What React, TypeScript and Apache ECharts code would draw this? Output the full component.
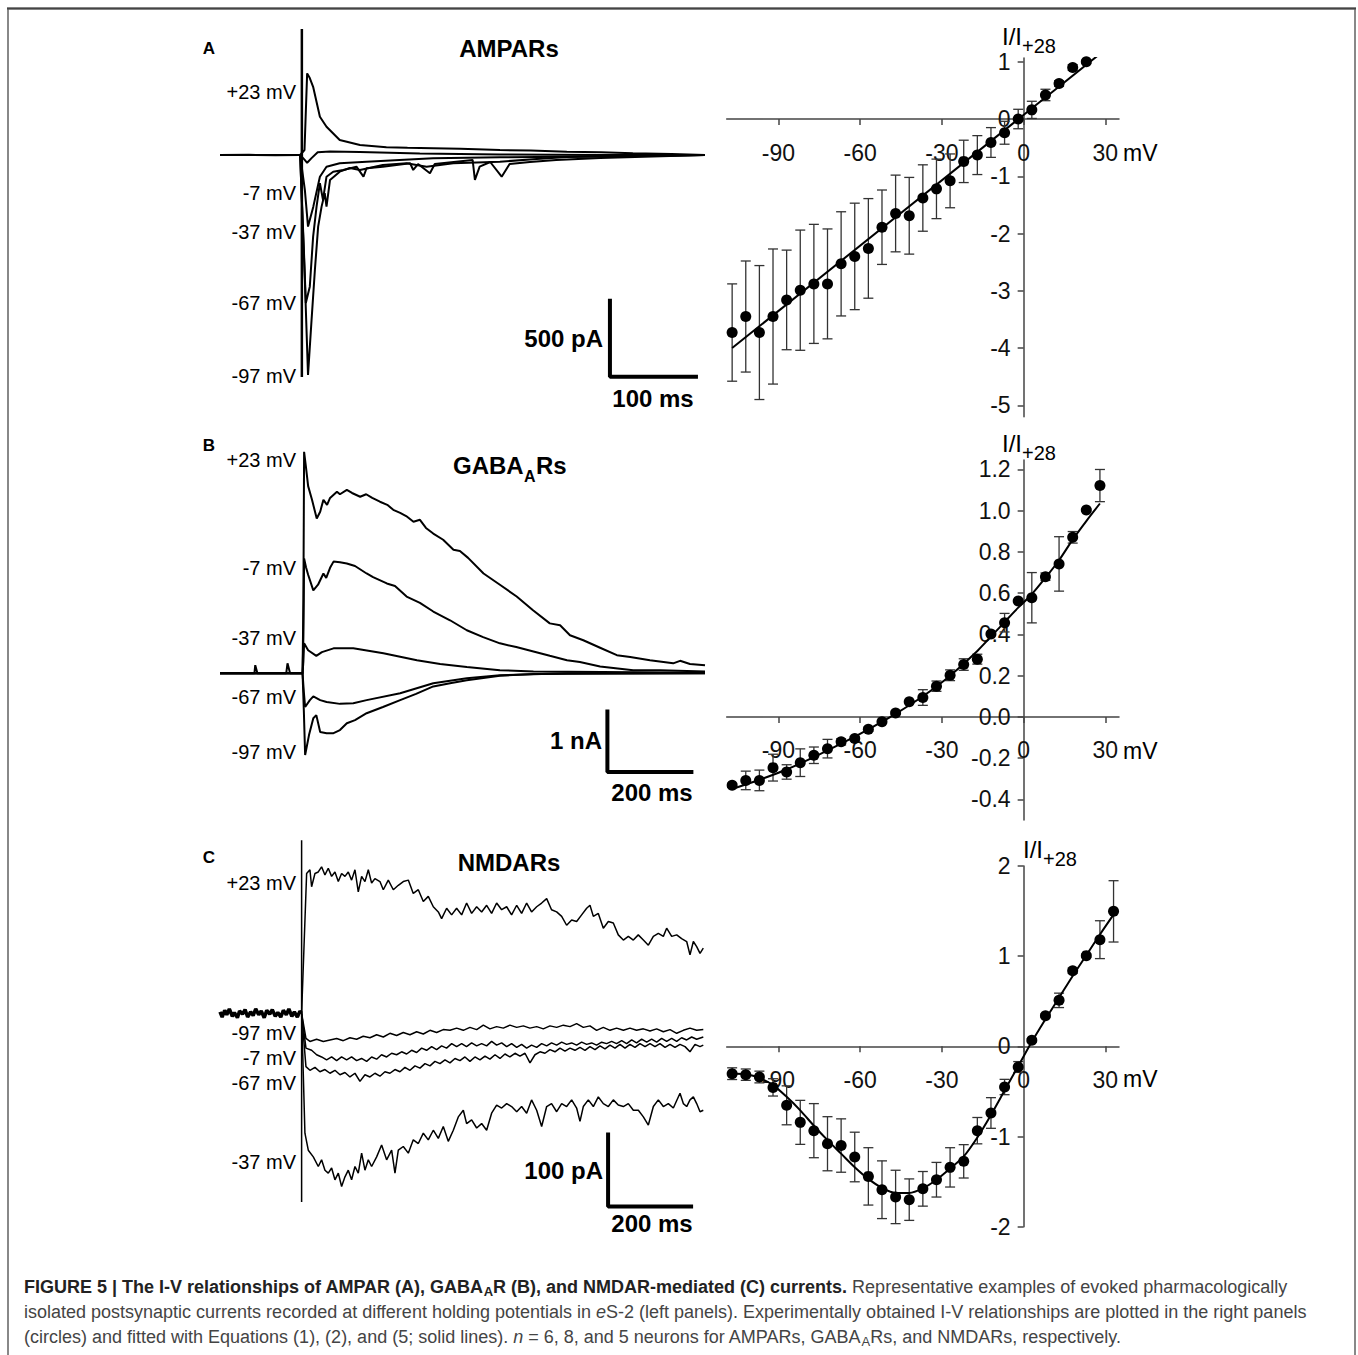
import React, { useEffect, useRef } from "react";
import * as echarts from "echarts";

// ---------------- Right panels: I-V relationships ----------------
const ivXTicks = [-90, -60, -30, 0, 30];
const ivXMin = -109;
const ivXMax = 35;

const vA = [-107, -102, -97, -92, -87, -82, -77, -72, -67, -62, -57, -52, -47, -42, -37, -32, -27, -22, -17, -12, -7, -2, 3, 8, 13, 18, 23];
const iA = [-3.73, -3.45, -3.73, -3.45, -3.16, -2.99, -2.88, -2.88, -2.53, -2.4, -2.26, -1.89, -1.65, -1.69, -1.38, -1.22, -1.08, -0.74, -0.63, -0.41, -0.24, 0.0, 0.16, 0.42, 0.62, 0.9, 1.0];
const eA = [0.85, 0.97, 1.17, 1.18, 0.87, 1.05, 1.04, 0.96, 0.91, 0.93, 0.87, 0.65, 0.67, 0.67, 0.58, 0.52, 0.47, 0.37, 0.34, 0.26, 0.2, 0.17, 0.15, 0.1, 0.05, 0.05, 0.03];
const fitA = [[-107, -4.0], [27, 1.1]];
const yTicksA = [-5, -4, -3, -2, -1, 0, 1];

const vB = [-107, -102, -97, -92, -87, -82, -77, -72, -67, -62, -57, -52, -47, -42, -37, -32, -27, -22, -17, -12, -7, -2, 3, 8, 13, 18, 23, 28];
const iB = [-0.332, -0.308, -0.308, -0.246, -0.267, -0.222, -0.186, -0.154, -0.121, -0.105, -0.06, -0.024, 0.019, 0.073, 0.094, 0.149, 0.202, 0.254, 0.28, 0.402, 0.457, 0.562, 0.578, 0.68, 0.742, 0.871, 1.004, 1.122];
const eB = [0.01, 0.045, 0.05, 0.065, 0.035, 0.067, 0.04, 0.045, 0.015, 0.01, 0.01, 0.005, 0.005, 0.005, 0.038, 0.025, 0.026, 0.028, 0.024, 0.005, 0.045, 0.005, 0.122, 0.018, 0.132, 0.028, 0.005, 0.078];
const fitB = [[-107, -0.35], [-97, -0.305], [-87, -0.255], [-77, -0.195], [-67, -0.13], [-57, -0.06], [-47, 0.015], [-37, 0.1], [-27, 0.2], [-17, 0.32], [-7, 0.46], [-2, 0.53], [3, 0.595], [8, 0.675], [13, 0.76], [18, 0.86], [23, 0.95], [28, 1.035]];
const yTicksB = [-0.4, -0.2, 0, 0.2, 0.4, 0.6, 0.8, 1.0, 1.2];

const vC = [-107, -102, -97, -92, -87, -82, -77, -72, -67, -62, -57, -52, -47, -42, -37, -32, -27, -22, -17, -12, -7, -2, 3, 8, 13, 18, 23, 28, 33];
const iC = [-0.303, -0.314, -0.34, -0.455, -0.654, -0.843, -0.935, -1.08, -1.1, -1.227, -1.442, -1.59, -1.67, -1.7, -1.58, -1.479, -1.342, -1.275, -0.935, -0.739, -0.451, -0.229, 0.067, 0.34, 0.51, 0.839, 1.006, 1.183, 1.497];
const eC = [0.065, 0.063, 0.065, 0.096, 0.216, 0.244, 0.3, 0.3, 0.296, 0.275, 0.318, 0.32, 0.296, 0.23, 0.192, 0.192, 0.218, 0.185, 0.146, 0.17, 0.085, 0.06, 0.02, 0.02, 0.08, 0.03, 0.02, 0.21, 0.34];
const fitC = [[-107, -0.3], [-102, -0.31], [-97, -0.35], [-92, -0.43], [-87, -0.56], [-82, -0.71], [-77, -0.88], [-72, -1.04], [-67, -1.19], [-62, -1.34], [-57, -1.47], [-52, -1.57], [-47, -1.625], [-42, -1.625], [-37, -1.575], [-32, -1.48], [-27, -1.355], [-22, -1.22], [-17, -1.01], [-12, -0.76], [-7, -0.49], [-2, -0.22], [3, 0.05], [8, 0.3], [13, 0.54], [18, 0.78], [23, 1.01], [28, 1.24], [33, 1.46]];
const yTicksC = [-2, -1, 0, 1, 2];

// ---------------- Left panels: traces (t in ms, I in pA / nA) ----------------
// A: AMPARs (pA)
const tA_p23 = [[-93, 0], [-60, 1], [-30, -1], [-2, 0], [3, 32], [6, 523], [9, 493], [12.8, 437], [20.5, 245], [28, 181], [43, 96], [66, 64], [96, 49], [120, 46], [149, 43], [180, 40], [225, 32], [260, 28], [301, 21], [340, 17], [376, 11], [420, 6], [458, 0]];
const tA_m7 = [[-93, 0], [-2, 0], [3, -30], [6, -50], [11, -20], [18, 18], [32, 22], [66, 19], [134, 10], [225, 3], [340, 0], [458, 0]];
const tA_m37 = [[-93, 0], [-2, 0], [3.4, -224], [7, -459], [13, -331], [20.5, -139], [28, -75], [43, -53], [73.5, -43], [111, -32], [149, -21], [225, -15], [301, -11], [458, 0]];
const tA_m67 = [[-93, 0], [-2, 0], [2.3, -608], [4.5, -948], [9, -844], [12.8, -523], [16.7, -331], [20.5, -181], [24, -288], [28, -139], [35.6, -107], [47, -96], [62, -75], [70, -139], [73.5, -85], [92, -75], [123, -53], [126.5, -96], [132, -58], [145.5, -117], [151, -58], [194, -32], [196.6, -160], [202, -75], [214, -45], [227, -139], [236, -58], [259, -45], [289, -32], [339, -19], [458, 0]];
const tA_m97 = [[-93, 0], [-2, 0], [3.4, -800], [7, -1410], [11, -1058], [14.8, -737], [18.5, -459], [22.4, -331], [26, -245], [28, -331], [32, -160], [43, -107], [54.5, -83], [66, -96], [92, -64], [119, -53], [141.7, -75], [172, -53], [225, -43], [262.5, -28], [301, -13], [458, 0]];
const stimA = [[0, 808], [0, -1423]];
const barA = [[350, -921], [350, -1421], [450, -1421]];

// B: GABA_ARs (nA)
const tB_p23 = [[-194, 0], [-114, 0], [-112, 0.13], [-107, 0], [-40, 0], [-37, 0.16], [-31, 0], [-2, 0], [0, 1.2], [1.6, 3.55], [6, 3.3], [11, 3.0], [20, 2.78], [31, 2.48], [39, 2.59], [46.5, 2.78], [55, 2.7], [62, 2.81], [78, 2.91], [85, 2.87], [101, 2.94], [113, 2.89], [132, 2.83], [146, 2.87], [160, 2.81], [178, 2.75], [195, 2.7], [209, 2.62], [225, 2.57], [239, 2.52], [256, 2.43], [271, 2.46], [285, 2.33], [302, 2.24], [325, 2.14], [349, 1.98], [364, 1.96], [383, 1.85], [419, 1.6], [457, 1.42], [496, 1.23], [534, 1.01], [573, 0.8], [597, 0.77], [620, 0.61], [651, 0.53], [690, 0.41], [729, 0.29], [760, 0.26], [806, 0.21], [860, 0.16], [876, 0.2], [899, 0.15], [934, 0.13]];
const tB_m7 = [[-194, 0], [-2, 0], [0, 0.6], [1.6, 1.84], [6, 1.7], [11, 1.58], [23, 1.33], [34, 1.42], [46.5, 1.6], [53, 1.53], [62, 1.69], [70, 1.79], [85, 1.78], [101, 1.76], [120, 1.72], [147, 1.6], [162, 1.54], [194, 1.44], [213, 1.4], [240, 1.23], [271, 1.13], [302, 0.99], [341, 0.85], [380, 0.69], [418, 0.58], [457, 0.48], [495, 0.42], [535, 0.35], [573, 0.28], [613, 0.21], [643, 0.18], [690, 0.11], [767, 0.05], [830, 0.05], [934, 0.03]];
const tB_m37 = [[-194, 0], [-2, 0], [0, 0.2], [1.6, 0.48], [11, 0.37], [30, 0.28], [43, 0.34], [70, 0.4], [116, 0.4], [186, 0.32], [264, 0.21], [318, 0.15], [380, 0.1], [457, 0.05], [535, 0.03], [934, 0.01]];
const tB_m67 = [[-194, 0], [-2, 0], [1, -0.3], [4, -0.54], [15, -0.43], [23, -0.37], [39, -0.43], [54, -0.46], [85, -0.49], [116, -0.48], [147, -0.43], [225, -0.32], [302, -0.16], [380, -0.08], [457, -0.03], [613, 0], [934, 0]];
const tB_m97 = [[-194, 0], [-2, 0], [1, -0.6], [4, -1.31], [13, -0.99], [23, -0.72], [30, -0.67], [39, -0.94], [54, -0.96], [70, -0.96], [85, -0.91], [101, -0.8], [120, -0.75], [147, -0.64], [185, -0.54], [225, -0.43], [262, -0.33], [302, -0.21], [341, -0.16], [380, -0.11], [457, -0.04], [535, -0.01], [934, 0]];
const barB = [[707, -0.58], [707, -1.58], [907, -1.58]];

// C: NMDARs (pA)
const tC_base = [[-192, 2], [-187, -5], [-181, 4], [-176, -2], [-170, 6], [-163, -4], [-158, 1], [-151, -6], [-146, 3], [-139, -1], [-133, 5], [-127, -5], [-120, 2], [-114, -3], [-108, 6], [-101, -2], [-95, 3], [-88, -6], [-82, 4], [-75, -1], [-69, 5], [-62, -4], [-56, 1], [-49, -5], [-43, 4], [-36, -2], [-30, 6], [-23, -4], [-17, 2], [-10, -5], [-4, 3], [0, 0]];
const tC_p23 = [[0, 0], [11.8, 189], [19.6, 194], [23.5, 171], [31.4, 189], [39.2, 191], [47, 198], [54.9, 187], [62.7, 196], [70.6, 185], [78.4, 191], [86.3, 178], [94.1, 189], [102, 185], [109.8, 191], [117.6, 180], [125.5, 194], [133.3, 164], [141.2, 185], [149, 178], [156.9, 194], [164.7, 176], [172.5, 182], [184.3, 178], [192.2, 167], [203.9, 180], [215.7, 167], [227.5, 173], [239.2, 178], [251, 180], [262.7, 162], [274.5, 167], [286.3, 151], [298, 158], [309.8, 144], [321.6, 137], [329.4, 128], [341.2, 142], [352.9, 133], [364.7, 142], [376.5, 133], [388.2, 149], [400, 135], [411.8, 144], [423.5, 137], [435.3, 146], [447, 135], [458.8, 149], [470.6, 140], [482.4, 144], [494, 133], [506, 146], [517.6, 135], [529.4, 149], [541, 137], [553, 144], [564.7, 149], [576.5, 155], [588, 140], [600, 137], [611.8, 131], [623.5, 119], [635.3, 126], [647, 124], [658.8, 133], [670.6, 142], [678.4, 146], [686.3, 131], [698, 135], [709.8, 115], [721.6, 124], [733.3, 122], [745, 106], [756.9, 99], [768.6, 104], [780.4, 99], [792, 106], [804, 99], [815.7, 92], [827.5, 104], [839.2, 108], [851, 104], [858.8, 115], [870.6, 104], [882.4, 106], [894, 101], [905.9, 97], [913.7, 79], [921.6, 97], [929.4, 90], [937.3, 81], [945, 88]];
const tC_m37 = [[0, 0], [7.8, -162], [15.7, -185], [27.5, -194], [39.2, -207], [47, -198], [54.9, -212], [62.7, -216], [70.6, -209], [78.4, -225], [86.3, -216], [94.1, -234], [102, -221], [109.8, -212], [117.6, -225], [125.5, -207], [133.3, -216], [141.2, -189], [149, -212], [156.9, -198], [164.7, -207], [176.5, -194], [188.2, -178], [200, -198], [211.8, -185], [219.6, -216], [227.5, -185], [239.2, -180], [251, -189], [262.7, -171], [274.5, -176], [286.3, -162], [298, -171], [309.8, -158], [321.6, -169], [333.3, -153], [345, -173], [356.9, -158], [368.6, -140], [380.4, -131], [388.2, -149], [400, -144], [411.8, -155], [423.5, -149], [435.3, -158], [447, -135], [458.8, -124], [470.6, -128], [482.4, -122], [494, -126], [506, -133], [517.6, -126], [529.4, -135], [541, -117], [553, -131], [564.7, -153], [576.5, -126], [588, -122], [600, -133], [611.8, -122], [623.5, -126], [635.3, -117], [647, -128], [654.9, -146], [662.7, -126], [674.5, -117], [686.3, -126], [698, -113], [709.8, -122], [721.6, -126], [733.3, -117], [745, -124], [756.9, -126], [768.6, -122], [780.4, -131], [792.2, -131], [804, -140], [815.7, -151], [827.5, -126], [839.2, -117], [851, -126], [862.7, -122], [874.5, -128], [890.2, -108], [898, -122], [905.9, -126], [913.7, -117], [921.6, -113], [929.4, -122], [937.3, -133], [945, -131]];
const tC_m97 = [[0, 0], [10.2, -34], [19.6, -38], [35.3, -35], [51, -38], [66.7, -36], [82.4, -34], [98, -37], [113.7, -33], [129.4, -35], [145, -31], [160.8, -33], [176.5, -29], [192.2, -32], [207.8, -27], [223.5, -30], [239.2, -26], [254.9, -29], [270.6, -25], [286.3, -28], [302, -23], [317.6, -26], [333.3, -22], [349, -23], [364.7, -20], [380.4, -23], [396, -19], [411.8, -22], [427.5, -16], [443, -21], [458.8, -18], [474.5, -20], [490, -16], [506, -19], [521.6, -17], [537, -20], [553, -18], [568.6, -21], [584.3, -17], [600, -19], [615.7, -16], [631.4, -18], [647, -14], [662.7, -19], [678.4, -17], [694, -23], [709.8, -19], [725.5, -23], [741, -20], [757, -23], [772.5, -20], [788, -23], [804, -21], [819.6, -24], [835.3, -21], [851, -25], [866.7, -22], [882.4, -27], [898, -23], [913.7, -20], [929.4, -23], [945, -22]];
const tC_m7 = [[0, 0], [10.2, -47], [23.5, -50], [35.3, -56], [47, -59], [58.8, -63], [70.6, -59], [82.4, -64], [94, -59], [105.9, -63], [117.6, -59], [129.4, -64], [141, -61], [153, -65], [164.7, -59], [176.5, -62], [188, -56], [200, -59], [211.8, -54], [223.5, -56], [235.3, -52], [247, -55], [258.8, -50], [270.6, -53], [282.4, -47], [294, -50], [305.9, -45], [317.6, -49], [329.4, -44], [341, -47], [353, -41], [364.7, -45], [376.5, -41], [388, -45], [400, -40], [411.8, -44], [423.5, -41], [435.3, -44], [447, -38], [458.8, -43], [470.6, -40], [482.4, -45], [494, -41], [506, -46], [517.6, -42], [529.4, -47], [541, -43], [553, -46], [564.7, -41], [576.5, -44], [588, -40], [600, -43], [611.8, -39], [623.5, -42], [635.3, -40], [647, -43], [658.8, -39], [670.6, -42], [682.4, -40], [694, -43], [705.9, -39], [717.6, -41], [729.4, -38], [741, -41], [753, -37], [764.7, -41], [776.5, -36], [788, -40], [800, -35], [811.8, -39], [823.5, -35], [835.3, -39], [847, -34], [858.8, -38], [870.6, -34], [882.4, -38], [894, -33], [905.9, -36], [917.6, -32], [929.4, -35], [945, -32]];
const tC_m67 = [[0, 0], [10.2, -72], [19.6, -77], [31.4, -73], [43, -79], [54.9, -76], [66.7, -81], [78.4, -77], [90.2, -83], [102, -80], [113.7, -86], [125.5, -81], [137.3, -92], [149, -83], [160.8, -86], [172.5, -81], [184.3, -85], [196, -79], [207.8, -81], [219.6, -76], [231.4, -79], [243.1, -73], [255, -77], [266.7, -71], [278.4, -74], [290.2, -68], [302, -71], [313.7, -65], [325.5, -68], [337.3, -63], [349, -67], [360.8, -61], [372.5, -64], [384.3, -59], [396, -65], [407.8, -59], [419.6, -63], [431.4, -58], [443, -62], [455, -56], [466.7, -61], [478.4, -55], [490, -59], [502, -54], [513.7, -58], [525.5, -54], [537.3, -67], [549, -56], [560.8, -52], [572.5, -54], [584.3, -49], [596, -52], [607.8, -47], [619.6, -51], [631.4, -47], [643.1, -50], [654.9, -46], [666.7, -50], [678.4, -45], [690.2, -49], [702, -44], [713.7, -48], [725.5, -43], [737.3, -47], [749, -42], [760.8, -47], [772.5, -42], [784.3, -46], [796, -41], [808, -45], [819.6, -41], [831.4, -45], [843, -41], [855, -46], [866.7, -42], [878.4, -46], [890.2, -42], [902, -45], [913.7, -52], [925.5, -42], [937.3, -45], [945, -43]];
const stimC = [[0, 234], [0, -255]];
const barC = [[721, -161], [721, -261], [921, -261]];

const FONT = "'Liberation Sans', Arial, Helvetica, sans-serif";

// Right-panel axes cross at zero: the whole axis (line, ticks, labels) is shifted with `offset`.
function ivAxes(idx: number, gridW: number, gridH: number, yMin: number, yMax: number, yTicks: number[], dec: number) {
  const axisLine = { onZero: false, lineStyle: { color: "#444", width: 1.5 } };
  const tick = { length: 6, lineStyle: { color: "#444", width: 1.5 } };
  const xOffset = -(gridH * (0 - yMin)) / (yMax - yMin);
  const yOffset = -(gridW * (0 - ivXMin)) / (ivXMax - ivXMin);
  const x = {
    gridIndex: idx, type: "value", min: ivXMin, max: ivXMax, position: "bottom", offset: xOffset,
    axisLine,
    axisTick: { ...tick, customValues: ivXTicks },
    axisLabel: { customValues: ivXTicks, fontSize: 23, color: "#111", margin: 22, fontFamily: FONT },
    splitLine: { show: false },
  };
  const y = {
    gridIndex: idx, type: "value", min: yMin, max: yMax, position: "left", offset: yOffset,
    axisLine,
    axisTick: { ...tick, customValues: yTicks },
    axisLabel: {
      customValues: yTicks, fontSize: 23, color: "#111", margin: 13, fontFamily: FONT,
      formatter: (v: number) => (dec > 0 ? v.toFixed(dec) : String(Math.round(v))),
    },
    splitLine: { show: false },
  };
  return { x, y };
}

function ivSeries(idx: number, v: number[], m: number[], e: number[], fit: number[][], smooth: number) {
  return [
    {
      type: "custom", xAxisIndex: idx, yAxisIndex: idx, silent: true, z: 2,
      data: v.map((x, i) => [x, m[i] - e[i], m[i] + e[i]]),
      encode: { x: 0, y: [1, 2] },
      renderItem: (_p: any, api: any) => {
        const x = api.value(0);
        const a = api.coord([x, api.value(2)]);
        const b = api.coord([x, api.value(1)]);
        const w = 5;
        const style = { stroke: "#333", lineWidth: 1.3 };
        return {
          type: "group",
          children: [
            { type: "line", shape: { x1: a[0], y1: a[1], x2: b[0], y2: b[1] }, style },
            { type: "line", shape: { x1: a[0] - w, y1: a[1], x2: a[0] + w, y2: a[1] }, style },
            { type: "line", shape: { x1: b[0] - w, y1: b[1], x2: b[0] + w, y2: b[1] }, style },
          ],
        };
      },
    },
    {
      type: "line", xAxisIndex: idx, yAxisIndex: idx, data: fit, smooth, showSymbol: false, silent: true, z: 3,
      lineStyle: { color: "#000", width: 2 },
    },
    {
      type: "scatter", xAxisIndex: idx, yAxisIndex: idx, silent: true, z: 4,
      data: v.map((x, i) => [x, m[i]]), symbolSize: 11, itemStyle: { color: "#000", opacity: 1 },
    },
  ];
}

function trace(idx: number, data: number[][], width: number) {
  return {
    type: "line", xAxisIndex: idx, yAxisIndex: idx, data, showSymbol: false, silent: true,
    lineStyle: { color: "#000", width }, z: 2,
  };
}

function hiddenAxes(idx: number, xMin: number, xMax: number, yMin: number, yMax: number) {
  return {
    x: { gridIndex: idx, type: "value", min: xMin, max: xMax, show: false, splitLine: { show: false } },
    y: { gridIndex: idx, type: "value", min: yMin, max: yMax, show: false, splitLine: { show: false } },
  };
}

function txt(text: string, x: number, y: number, size: number, opts: any = {}) {
  return {
    type: "text", x, y, silent: true,
    style: {
      text, fontSize: size, fontFamily: FONT, fill: opts.fill || "#000",
      fontWeight: opts.bold ? "bold" : "normal",
      align: opts.align || "left", verticalAlign: "middle",
    },
  };
}

export default function App() {
  const ref = useRef<HTMLDivElement>(null);
  useEffect(() => {
    if (!ref.current) return;
    const chart = echarts.init(ref.current, undefined, { renderer: "svg" });

    const gR = { w: 392.3 };
    const aL = hiddenAxes(0, -93, 458, -1474, 833);
    const aR = ivAxes(1, gR.w, 358.7, -5.2, 1.066, yTicksA, 0);
    const bL = hiddenAxes(2, -194, 934, -1.63, 3.659);
    const bR = ivAxes(3, gR.w, 360, -0.5, 1.246, yTicksB, 1);
    const cL = hiddenAxes(4, -192, 949, -265.8, 234.2);
    const cR = ivAxes(5, gR.w, 360.7, -2, 2, yTicksC, 0);

    const mvLabels = (ys: number[], names: string[]) =>
      names.map((n, i) => txt(n, 296, ys[i], 20, { align: "right" }));

    const iOverI = (x: number, y: number) => [
      txt("I/I", x, y, 24),
      txt("+28", x + 20, y + 10, 20),
    ];

    const CAP = 18;
    const capRich = {
      b: { fontFamily: FONT, fontSize: CAP, fontWeight: "bold", fill: "#222", lineHeight: 22 },
      bs: { fontFamily: FONT, fontSize: 13, fontWeight: "bold", fill: "#222", lineHeight: 13, verticalAlign: "bottom" },
      r: { fontFamily: FONT, fontSize: CAP, fill: "#444", lineHeight: 22 },
      rs: { fontFamily: FONT, fontSize: 13, fill: "#444", lineHeight: 13, verticalAlign: "bottom" },
      i: { fontFamily: FONT, fontSize: CAP, fill: "#444", fontStyle: "italic", lineHeight: 22 },
    };
    const capLine = (text: string, y: number) => ({
      type: "text", x: 24, y, silent: true,
      style: { text, rich: capRich, fontFamily: FONT, fontSize: CAP, fill: "#444", align: "left", verticalAlign: "middle" },
    });

    const option: any = {
      animation: false,
      backgroundColor: "#fff",
      grid: [
        { left: 220, top: 25, width: 485, height: 360 },
        { left: 726.7, top: 58, width: gR.w, height: 358.7 },
        { left: 220, top: 445, width: 485, height: 330 },
        { left: 726.7, top: 460, width: gR.w, height: 360 },
        { left: 220, top: 840, width: 485, height: 370 },
        { left: 726.7, top: 866, width: gR.w, height: 360.7 },
      ],
      xAxis: [aL.x, aR.x, bL.x, bR.x, cL.x, cR.x],
      yAxis: [aL.y, aR.y, bL.y, bR.y, cL.y, cR.y],
      series: [
        trace(0, stimA, 2.5),
        trace(0, tA_p23, 2),
        trace(0, tA_m7, 2),
        trace(0, tA_m37, 2),
        trace(0, tA_m67, 2),
        trace(0, tA_m97, 2),
        trace(0, barA, 4),
        ...ivSeries(1, vA, iA, eA, fitA, 0),
        trace(2, tB_p23, 2),
        trace(2, tB_m7, 2),
        trace(2, tB_m37, 2),
        trace(2, tB_m67, 2),
        trace(2, tB_m97, 2),
        trace(2, barB, 4),
        ...ivSeries(3, vB, iB, eB, fitB, 0.3),
        trace(4, tC_base, 3.5),
        trace(4, stimC, 1.5),
        trace(4, tC_p23, 1.5),
        trace(4, tC_m37, 1.5),
        trace(4, tC_m97, 1.5),
        trace(4, tC_m7, 1.5),
        trace(4, tC_m67, 1.5),
        trace(4, barC, 4),
        ...ivSeries(5, vC, iC, eC, fitC, 0.3),
      ],
      graphic: [
        { type: "rect", silent: true, shape: { x: 8, y: 8.5, width: 1347, height: 1400 }, style: { fill: "none", stroke: "#888", lineWidth: 2 } },
        { type: "line", silent: true, shape: { x1: 7, y1: 8.5, x2: 1356, y2: 8.5 }, style: { stroke: "#444", lineWidth: 2 } },
        // Panel A
        txt("A", 209, 48, 17, { bold: true, align: "center" }),
        txt("AMPARs", 509, 48, 24, { bold: true, align: "center" }),
        ...mvLabels([92, 193, 232, 303, 376], ["+23 mV", "-7 mV", "-37 mV", "-67 mV", "-97 mV"]),
        txt("500 pA", 603, 338, 24, { bold: true, align: "right" }),
        txt("100 ms", 653, 398, 24, { bold: true, align: "center" }),
        ...iOverI(1002, 36),
        txt("mV", 1123, 153, 23),
        // Panel B
        txt("B", 209, 445, 17, { bold: true, align: "center" }),
        txt("GABA", 453, 465, 24, { bold: true }),
        txt("A", 524, 476, 16, { bold: true }),
        txt("Rs", 536, 465, 24, { bold: true }),
        ...mvLabels([460, 568, 638, 697, 752], ["+23 mV", "-7 mV", "-37 mV", "-67 mV", "-97 mV"]),
        txt("1 nA", 602, 740, 24, { bold: true, align: "right" }),
        txt("200 ms", 652, 792, 24, { bold: true, align: "center" }),
        ...iOverI(1002, 443),
        txt("mV", 1123, 751, 23),
        // Panel C
        txt("C", 209, 857, 17, { bold: true, align: "center" }),
        txt("NMDARs", 509, 862, 24, { bold: true, align: "center" }),
        ...mvLabels([883, 1033, 1058, 1083, 1162], ["+23 mV", "-97 mV", "-7 mV", "-67 mV", "-37 mV"]),
        txt("100 pA", 603, 1170, 24, { bold: true, align: "right" }),
        txt("200 ms", 652, 1223, 24, { bold: true, align: "center" }),
        ...iOverI(1023, 849),
        txt("mV", 1123, 1079, 23),
        // Caption
        capLine("{b|FIGURE 5 | The I-V relationships of AMPAR (A), GABA}{bs|A}{b|R (B), and NMDAR-mediated (C) currents.}{r| Representative examples of evoked pharmacologically}", 1287),
        capLine("{r|isolated postsynaptic currents recorded at different holding potentials in }{i|e}{r|S-2 (left panels). Experimentally obtained I-V relationships are plotted in the right panels}", 1312),
        capLine("{r|(circles) and fitted with Equations (1), (2), and (5; solid lines). }{i|n}{r| = 6, 8, and 5 neurons for AMPARs, GABA}{rs|A}{r|Rs, and NMDARs, respectively.}", 1337),
      ],
    };
    chart.setOption(option);
    return () => chart.dispose();
  }, []);
  return (
    <div
      ref={ref}
      style={{ position: "absolute", left: 0, top: 0, width: 1358, height: 1355, background: "#fff" }}
    />
  );
}
